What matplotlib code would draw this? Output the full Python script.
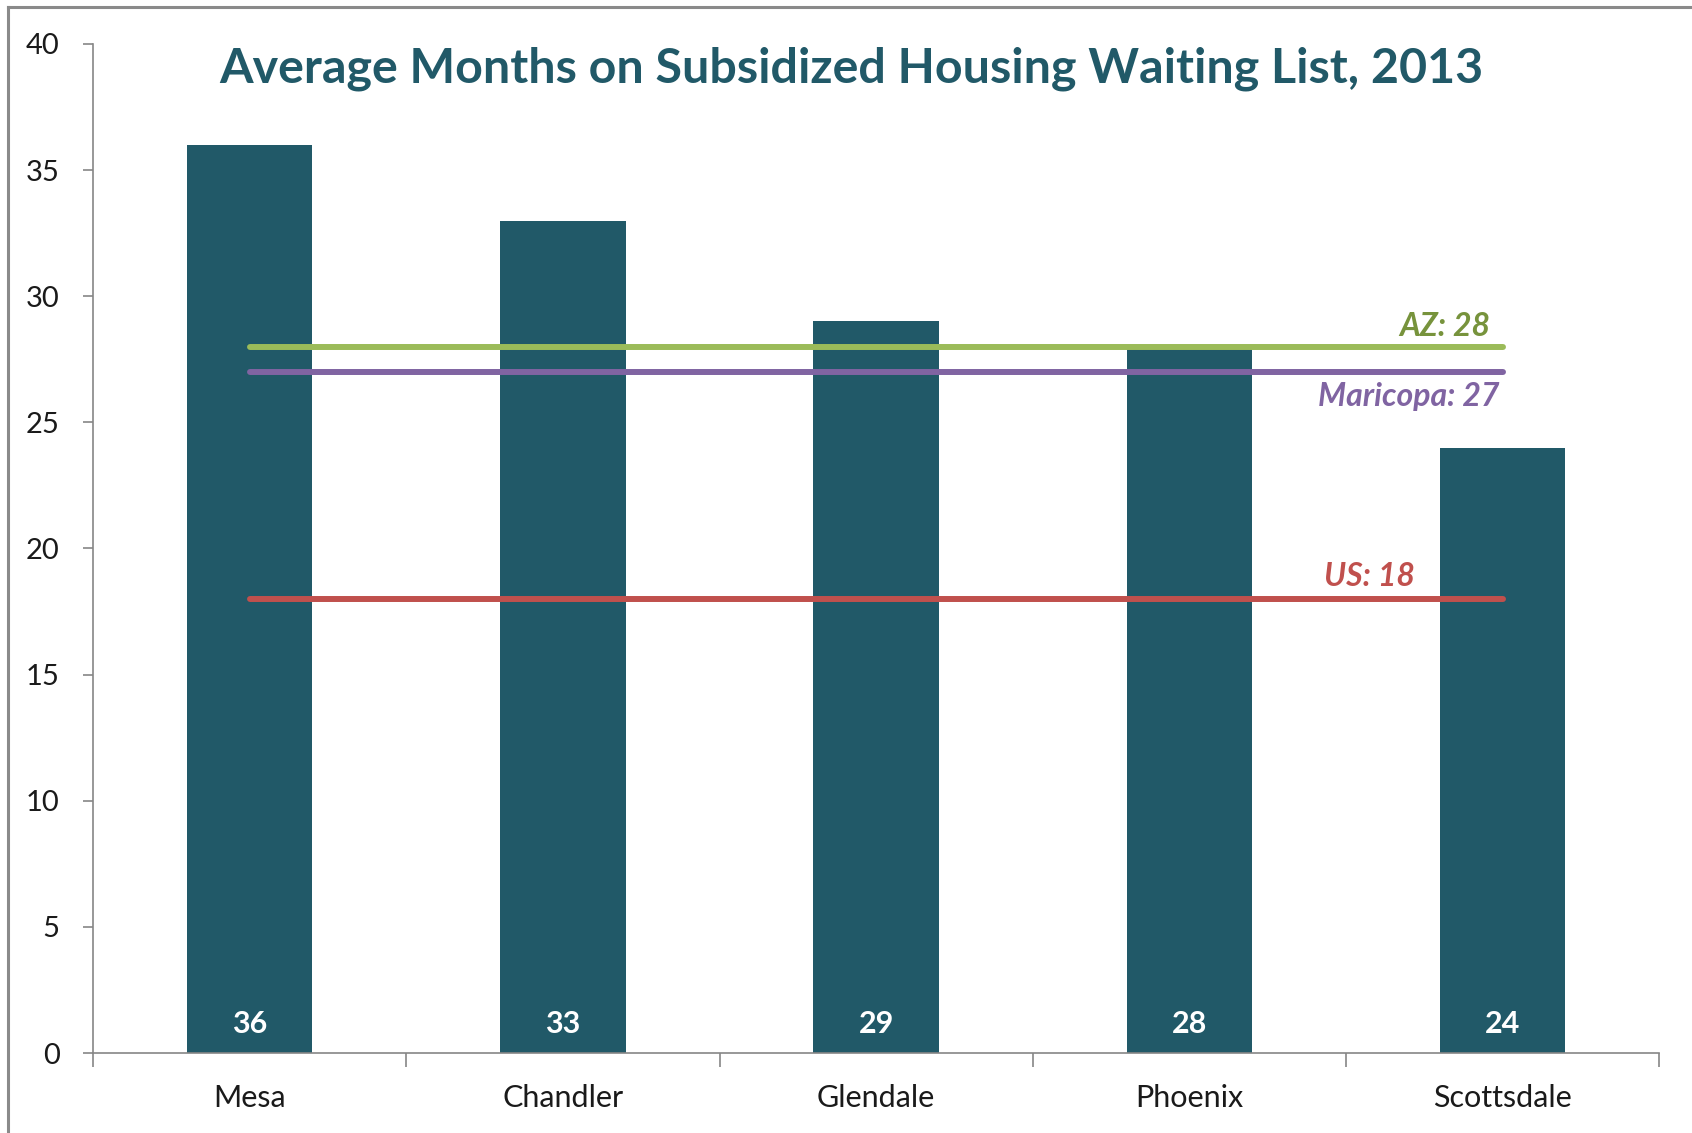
import matplotlib
matplotlib.use("Agg")
import matplotlib.pyplot as plt
from matplotlib.lines import Line2D

plt.rcParams['font.family'] = ['Lato', 'DejaVu Sans']

cities = ['Mesa', 'Chandler', 'Glendale', 'Phoenix', 'Scottsdale']
months = [36, 33, 29, 28, 24]
ref_names = ['AZ', 'Maricopa', 'US']
ref_values = [28, 27, 18]
ref_colors = ['#9BBB59', '#8064A2', '#C0504D']
ref_text_colors = ['#77933C', '#8064A2', '#C0504D']

bar_color = '#215968'
axis_gray = '#868686'

fig = plt.figure(figsize=(16.92, 11.33), dpi=100)
ax = fig.add_axes([0.055, 0.0706, 0.9256, 0.8906])

x = list(range(len(cities)))
ax.bar(x, months, width=0.4, color=bar_color, zorder=2)
for xi, v in zip(x, months):
    ax.annotate(str(v), (xi, 0), xytext=(0, 11), textcoords='offset points',
                ha='center', va='bottom', color='white', fontsize=22,
                fontweight='bold', zorder=4)

# reference lines
for name, val, c, tc in zip(ref_names, ref_values, ref_colors, ref_text_colors):
    ax.plot([x[0], x[-1]], [val, val], color=c, lw=4.3,
            solid_capstyle='round', zorder=3)
label_pos = {'AZ': (3.96, 4, 'bottom'), 'Maricopa': (3.99, -7, 'top'),
             'US': (3.72, 6, 'bottom')}
for name, val, tc in zip(ref_names, ref_values, ref_text_colors):
    lx, dy, va = label_pos[name]
    ax.annotate(f'{name}: {val}', (lx, val), xytext=(0, dy),
                textcoords='offset points', ha='right', va=va, color=tc,
                fontsize=23, fontweight='bold', fontstyle='italic', zorder=4)

ax.set_xlim(-0.5, len(cities) - 0.5)
ax.set_ylim(0, 40)
ax.set_yticks(range(0, 41, 5))
ax.set_xticks(x)
ax.set_xticklabels(cities)
ax.set_xticks([i - 0.5 for i in range(len(cities) + 1)], minor=True)
ax.tick_params(axis='x', which='major', length=0, pad=22, labelsize=22,
               labelcolor='#1a1a1a')
ax.tick_params(axis='x', which='minor', length=10, width=1.2, color=axis_gray)
ax.tick_params(axis='y', length=7, width=1.2, color=axis_gray, pad=17,
               labelsize=21, labelcolor='#1a1a1a')

for s in ['top', 'right']:
    ax.spines[s].set_visible(False)
for s in ['left', 'bottom']:
    ax.spines[s].set_color(axis_gray)
    ax.spines[s].set_linewidth(1.2)

fig.text(0.503, 0.939, 'Average Months on Subsidized Housing Waiting List, 2013',
         ha='center', va='center', color=bar_color, fontsize=34.8,
         fontweight='bold')

# outer chart frame (only top and left visible in the crop)
fig.add_artist(Line2D([0.005, 1.0], [0.9935, 0.9935], color='#8a8a8a', lw=2.2,
                      transform=fig.transFigure))
fig.add_artist(Line2D([0.005, 0.005], [0.0, 0.9935], color='#8a8a8a', lw=2.2,
                      transform=fig.transFigure))

fig.savefig('out.png', dpi=100)
